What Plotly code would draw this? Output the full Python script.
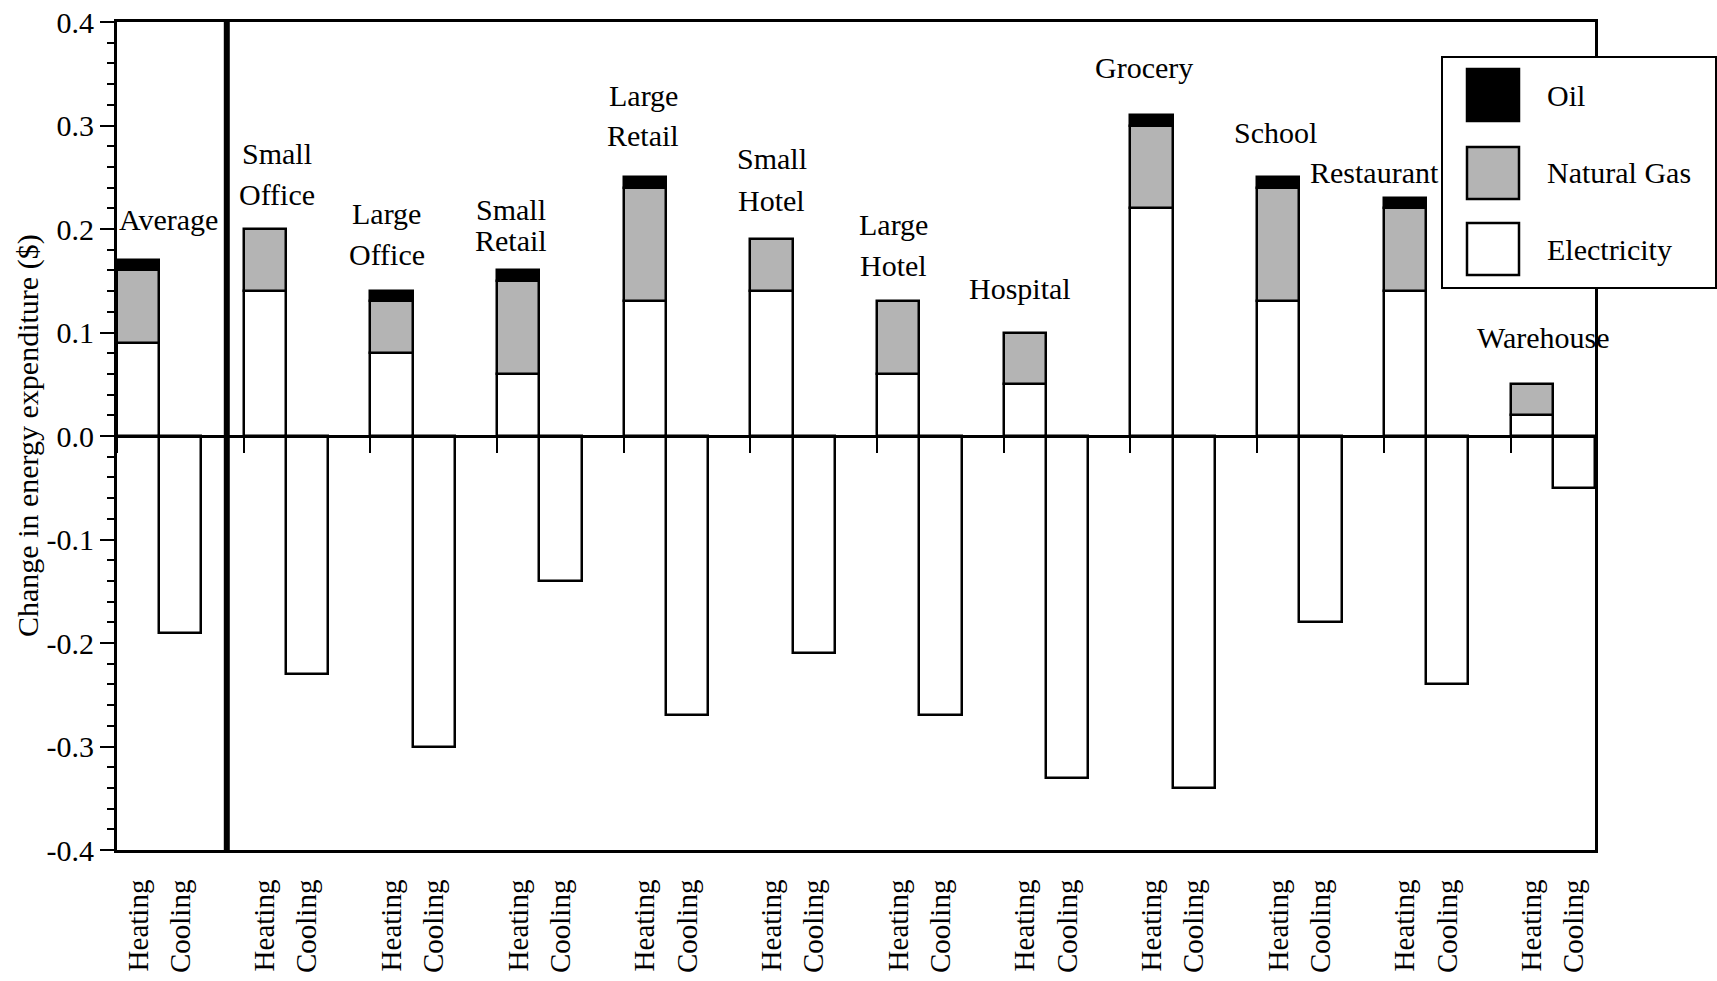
import plotly.graph_objects as go

# ---------------- data ----------------
categories = ["Average", "Small Office", "Large Office", "Small Retail", "Large Retail",
              "Small Hotel", "Large Hotel", "Hospital", "Grocery", "School",
              "Restaurant", "Warehouse"]
label_lines = [["Average"], ["Small", "Office"], ["Large", "Office"], ["Small", "Retail"],
               ["Large", "Retail"], ["Small", "Hotel"], ["Large", "Hotel"], ["Hospital"],
               ["Grocery"], ["School"], ["Restaurant"], ["Warehouse"]]
heat_electricity = [0.09, 0.14, 0.08, 0.06, 0.13, 0.14, 0.06, 0.05, 0.22, 0.13, 0.14, 0.02]
heat_natural_gas = [0.07, 0.06, 0.05, 0.09, 0.11, 0.05, 0.07, 0.05, 0.08, 0.11, 0.08, 0.03]
heat_oil = [0.01, None, 0.01, 0.01, 0.01, None, None, None, 0.01, 0.01, 0.01, None]
cool_electricity = [-0.19, -0.23, -0.30, -0.14, -0.27, -0.21, -0.27, -0.33, -0.34, -0.18, -0.24, -0.05]
end_uses = ["Heating", "Cooling"]
series_names = ["Oil", "Natural Gas", "Electricity"]
ytick_vals = [-0.4, -0.3, -0.2, -0.1, 0.0, 0.1, 0.2, 0.3, 0.4]
ytick_text = ["-0.4", "-0.3", "-0.2", "-0.1", "0.0", "0.1", "0.2", "0.3", "0.4"]

# ---------------- layout helpers ----------------
W, H = 1717, 981
L, R, T, B = 117, 1595, 22, 850
FONT = "Liberation Serif, Times New Roman, serif"
GAS = "#b4b4b4"


def px_x(p):
    return (p - L) / (R - L)


def px_y(p):
    return (B - p) / (B - T)


n = len(categories)
heat_x = [3 * g + 0.5 for g in range(n)]
cool_x = [3 * g + 1.5 for g in range(n)]
group_start = [3 * g for g in range(n)]

# label positions (x in slot units, y per line in data units)
label_x = [1.21, 3.79, 6.39, 9.33, 12.46, 15.51, 18.38, 21.38, 24.32, 27.44, 29.79, 33.77]
label_y = [[0.209], [0.273, 0.233], [0.215, 0.175], [0.219, 0.189], [0.329, 0.290],
           [0.268, 0.228], [0.204, 0.165], [0.143], [0.356], [0.293], [0.255], [0.095]]

line_style = dict(color="black", width=2.5)

fig = go.Figure()
fig.add_trace(go.Bar(x=heat_x + cool_x, y=heat_electricity + cool_electricity, width=1,
                     name=series_names[2], marker=dict(color="white", line=line_style),
                     showlegend=False))
fig.add_trace(go.Bar(x=heat_x, y=heat_natural_gas, width=1, name=series_names[1],
                     marker=dict(color=GAS, line=line_style), showlegend=False))
fig.add_trace(go.Bar(x=heat_x, y=heat_oil, width=1, name=series_names[0],
                     marker=dict(color="black", line=line_style), showlegend=False))
fig.add_trace(go.Scatter(x=[None], y=[None], xaxis="x2", showlegend=False, hoverinfo="skip"))

tick_pos = []
tick_txt = []
for hx, cx in zip(heat_x, cool_x):
    tick_pos += [hx, cx]
    tick_txt += end_uses

annotations = []
for lines, xs, ys in zip(label_lines, label_x, label_y):
    for t, yv in zip(lines, ys):
        annotations.append(dict(x=xs, y=yv, xref="x", yref="y", text=t, showarrow=False,
                                xanchor="center", yanchor="middle",
                                font=dict(family=FONT, size=30, color="black")))

annotations.append(dict(x=px_x(28), y=0.5, xref="paper", yref="paper",
                        text="Change in energy expenditure ($)", textangle=-90,
                        showarrow=False, xanchor="center", yanchor="middle",
                        font=dict(family=FONT, size=30, color="black")))

# legend (drawn manually to match large swatches)
shapes = [dict(type="rect", xref="paper", yref="paper", x0=px_x(1442), x1=px_x(1716),
               y0=px_y(288), y1=px_y(57), fillcolor="white",
               line=dict(color="black", width=2), layer="above")]
sw_fill = ["black", GAS, "white"]
sw_top = [69, 147, 223]
txt_y = [96, 172, 249]
for name, fc, top, ty in zip(series_names, sw_fill, sw_top, txt_y):
    shapes.append(dict(type="rect", xref="paper", yref="paper", x0=px_x(1467), x1=px_x(1519),
                       y0=px_y(top + 52), y1=px_y(top), fillcolor=fc,
                       line=dict(color="black", width=2.5), layer="above"))
    annotations.append(dict(x=px_x(1545), y=px_y(ty), xref="paper", yref="paper", text=name,
                            showarrow=False, xanchor="left", yanchor="middle",
                            font=dict(family=FONT, size=30, color="black")))

# thick separator between Average and the building types
shapes.append(dict(type="line", xref="x", yref="y", x0=2.6, x1=2.6, y0=-0.4, y1=0.4,
                   line=dict(color="black", width=6), layer="above"))

fig.update_layout(
    width=W, height=H,
    margin=dict(l=L, r=W - R, t=T, b=H - B, pad=0),
    paper_bgcolor="white", plot_bgcolor="white",
    barmode="relative", bargap=0,
    font=dict(family=FONT, size=30, color="black"),
    xaxis=dict(range=[0, 3 * n - 1], showgrid=False, zeroline=False, showline=True,
               mirror=True, linecolor="black", linewidth=3, ticks="", automargin=False,
               tickmode="array", tickvals=tick_pos, ticktext=tick_txt, tickangle=-90,
               ticklabelstandoff=15,
               tickfont=dict(family=FONT, size=29, color="black")),
    xaxis2=dict(range=[0, 3 * n - 1], overlaying="x", anchor="free", position=0.5,
                side="bottom", showgrid=False, zeroline=False, showline=True,
                linecolor="black", linewidth=3, ticks="outside", ticklen=15, tickwidth=2,
                tickcolor="black", tickmode="array", tickvals=group_start,
                showticklabels=False, automargin=False),
    yaxis=dict(range=[-0.4, 0.4], showgrid=False, zeroline=False, showline=True,
               mirror=True, linecolor="black", linewidth=3, ticks="outside", ticklen=14,
               tickwidth=2, tickcolor="black", tickmode="array", tickvals=ytick_vals,
               ticktext=ytick_text, tickfont=dict(family=FONT, size=30, color="black"),
               automargin=False,
               minor=dict(ticks="outside", ticklen=7, tickwidth=2, tickcolor="black",
                          dtick=0.02, tick0=0, showgrid=False)),
    annotations=annotations,
    shapes=shapes,
)

fig.write_html("out.html", config={"displayModeBar": False},
               post_script="document.body.style.margin='0';")
